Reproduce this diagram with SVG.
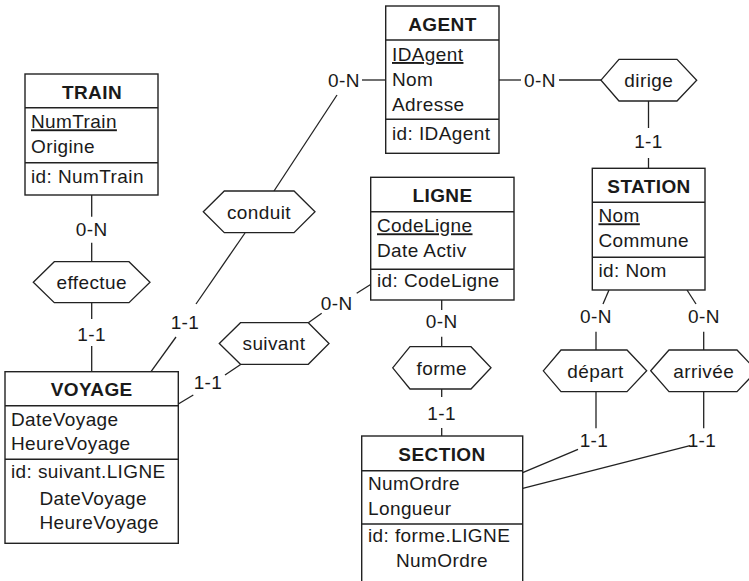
<svg xmlns="http://www.w3.org/2000/svg" width="749" height="581" viewBox="0 0 749 581">
<style>
.box{fill:#fff;stroke:#222;stroke-width:1.4}
.sep{stroke:#222;stroke-width:1.4}
.hex{fill:#fff;stroke:#222;stroke-width:1.3}
.ln{stroke:#222;stroke-width:1.3;fill:none}
text{font-family:"Liberation Sans",Arial,sans-serif;font-size:19px;fill:#1a1a1a;letter-spacing:0.4px}
.t{font-weight:bold;text-anchor:middle}
.c{text-anchor:middle}
.u{text-decoration:underline}
</style>
<rect width="749" height="581" fill="#fff"/>
<g id="connectors">
<line class="ln" x1="91.7" y1="195" x2="91.7" y2="216.7"/>
<line class="ln" x1="91.7" y1="242.7" x2="91.7" y2="261.7"/>
<text class="c" x="91.7" y="235.5">0-N</text>
<line class="ln" x1="91.7" y1="302.7" x2="91.7" y2="319"/>
<line class="ln" x1="91.7" y1="346" x2="91.7" y2="371.7"/>
<text class="c" x="91.7" y="340.5">1-1</text>
<line class="ln" x1="499" y1="80" x2="521" y2="80"/>
<line class="ln" x1="559" y1="80" x2="601" y2="80"/>
<text class="c" x="540" y="86.5">0-N</text>
<line class="ln" x1="648.5" y1="101" x2="648.5" y2="128"/>
<line class="ln" x1="648.5" y1="158" x2="648.5" y2="168.3"/>
<text class="c" x="648.5" y="148">1-1</text>
<line class="ln" x1="385.7" y1="80" x2="362" y2="80"/>
<text class="c" x="344" y="86.5">0-N</text>
<line class="ln" x1="337" y1="95" x2="274" y2="191"/>
<line class="ln" x1="245" y1="233" x2="196" y2="304"/>
<text class="c" x="185" y="328.5">1-1</text>
<line class="ln" x1="176" y1="337" x2="151" y2="371.7"/>
<line class="ln" x1="371" y1="284.3" x2="356.7" y2="293.3"/>
<text class="c" x="336.7" y="309.5">0-N</text>
<line class="ln" x1="321.7" y1="313.3" x2="308.3" y2="322.7"/>
<line class="ln" x1="241" y1="364.3" x2="225" y2="375"/>
<text class="c" x="208" y="388.5">1-1</text>
<line class="ln" x1="193.3" y1="395" x2="178.3" y2="404"/>
<line class="ln" x1="441.7" y1="300" x2="441.7" y2="310"/>
<text class="c" x="441.7" y="328">0-N</text>
<line class="ln" x1="441.7" y1="336.7" x2="441.7" y2="346.7"/>
<line class="ln" x1="441.7" y1="389" x2="441.7" y2="397"/>
<text class="c" x="441.7" y="419.5">1-1</text>
<line class="ln" x1="441.7" y1="428" x2="441.7" y2="436"/>
<line class="ln" x1="609" y1="290" x2="603" y2="304"/>
<text class="c" x="596" y="323.2">0-N</text>
<line class="ln" x1="596" y1="331.7" x2="596" y2="350"/>
<line class="ln" x1="687" y1="290" x2="696" y2="304"/>
<text class="c" x="704" y="323.2">0-N</text>
<line class="ln" x1="703.7" y1="331.7" x2="703.7" y2="350"/>
<line class="ln" x1="596" y1="391.7" x2="596" y2="428.3"/>
<text class="c" x="594" y="446.5">1-1</text>
<line class="ln" x1="578" y1="449.3" x2="522.7" y2="472.7"/>
<line class="ln" x1="703.7" y1="391.7" x2="703.7" y2="428.3"/>
<text class="c" x="702" y="446.5">1-1</text>
<line class="ln" x1="690" y1="445.7" x2="522.7" y2="488.3"/>
</g>
<g id="TRAIN">
<rect class="box" x="25" y="74" width="133" height="121"/>
<line class="sep" x1="25" y1="107.7" x2="158" y2="107.7"/>
<line class="sep" x1="25" y1="162.7" x2="158" y2="162.7"/>
<text class="t" x="92" y="99">TRAIN</text>
<text class="u" x="31" y="128.3">NumTrain</text>
<text x="31" y="153.3">Origine</text>
<text x="31" y="183.3">id: NumTrain</text>
</g>
<g id="AGENT">
<rect class="box" x="385.7" y="6" width="113.3" height="147.3"/>
<line class="sep" x1="385.7" y1="40" x2="499" y2="40"/>
<line class="sep" x1="385.7" y1="119.3" x2="499" y2="119.3"/>
<text class="t" x="442.5" y="31">AGENT</text>
<text class="u" x="392" y="61">IDAgent</text>
<text x="392" y="86">Nom</text>
<text x="392" y="111">Adresse</text>
<text x="392" y="140">id: IDAgent</text>
</g>
<g id="LIGNE">
<rect class="box" x="370.7" y="177.3" width="143.3" height="122.7"/>
<line class="sep" x1="370.7" y1="211.7" x2="514" y2="211.7"/>
<line class="sep" x1="370.7" y1="269.3" x2="514" y2="269.3"/>
<text class="t" x="442.5" y="202">LIGNE</text>
<text class="u" x="377" y="232.3">CodeLigne</text>
<text x="377" y="257.3">Date Activ</text>
<text x="377" y="287">id: CodeLigne</text>
</g>
<g id="STATION">
<rect class="box" x="592.3" y="168.3" width="112.7" height="121.7"/>
<line class="sep" x1="592.3" y1="202.3" x2="705" y2="202.3"/>
<line class="sep" x1="592.3" y1="257.3" x2="705" y2="257.3"/>
<text class="t" x="649" y="192.7">STATION</text>
<text class="u" x="598.5" y="222.3">Nom</text>
<text x="598.5" y="247.3">Commune</text>
<text x="598.5" y="276.7">id: Nom</text>
</g>
<g id="VOYAGE">
<rect class="box" x="5" y="371.7" width="173.3" height="171.6"/>
<line class="sep" x1="5" y1="405.7" x2="178.3" y2="405.7"/>
<line class="sep" x1="5" y1="459.3" x2="178.3" y2="459.3"/>
<text class="t" x="91.7" y="396">VOYAGE</text>
<text x="11" y="425.7">DateVoyage</text>
<text x="11" y="450">HeureVoyage</text>
<text x="11" y="478.3">id: suivant.LIGNE</text>
<text x="39.5" y="505">DateVoyage</text>
<text x="39.5" y="529.3">HeureVoyage</text>
</g>
<g id="SECTION">
<rect class="box" x="361.7" y="436" width="161" height="160"/>
<line class="sep" x1="361.7" y1="470.7" x2="522.7" y2="470.7"/>
<line class="sep" x1="361.7" y1="524" x2="522.7" y2="524"/>
<text class="t" x="442" y="460.7">SECTION</text>
<text x="368" y="490">NumOrdre</text>
<text x="368" y="515">Longueur</text>
<text x="368" y="541.7">id: forme.LIGNE</text>
<text x="396" y="566.7">NumOrdre</text>
</g>
<g id="effectue">
<polygon class="hex" points="33.3,282.2 54.3,261.7 129,261.7 150,282.2 129,302.7 54.3,302.7"/>
<text class="c" x="91.7" y="288.7">effectue</text>
</g>
<g id="conduit">
<polygon class="hex" points="203.3,211.8 224.3,191 294,191 315,211.8 294,232.7 224.3,232.7"/>
<text class="c" x="259" y="218.5">conduit</text>
</g>
<g id="suivant">
<polygon class="hex" points="219.3,343.5 240.5,322.7 308.3,322.7 329,343.5 308.3,364.3 240.5,364.3"/>
<text class="c" x="274" y="350.2">suivant</text>
</g>
<g id="dirige">
<polygon class="hex" points="601,80.2 619,59.3 677,59.3 696.7,80.2 677,101 619,101"/>
<text class="c" x="648.8" y="86.9">dirige</text>
</g>
<g id="forme">
<polygon class="hex" points="392.7,367.8 410,346.7 471,346.7 491,367.8 471,389 410,389"/>
<text class="c" x="441.8" y="374.5">forme</text>
</g>
<g id="depart">
<polygon class="hex" points="543.3,370.8 561,350 627,350 646.7,370.8 627,391.7 561,391.7"/>
<text class="c" x="595.5" y="377.5">départ</text>
</g>
<g id="arrivee">
<polygon class="hex" points="650.7,370.8 669,350 737,350 756.7,370.8 737,391.7 669,391.7"/>
<text class="c" x="703.7" y="377.5">arrivée</text>
</g>
</svg>
